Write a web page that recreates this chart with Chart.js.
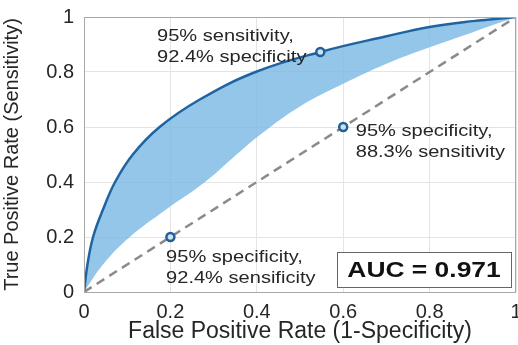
<!DOCTYPE html>
<html>
<head>
<meta charset="utf-8">
<script src="https://cdn.jsdelivr.net/npm/chart.js@4/dist/chart.umd.min.js"></script>
<style>
  html, body { margin: 0; padding: 0; background: #fff; }
  #wrap { width: 518px; height: 345px; }
</style>
</head>
<body>
<div id="wrap"><canvas id="myChart"></canvas></div>
<script>
// ROC curve (upper edge of the shaded band)
var rocFpr = [0, 0.008, 0.021, 0.044, 0.072, 0.113, 0.175, 0.268, 0.397, 0.547, 0.7, 0.8, 0.9, 1];
var rocTpr = [0, 0.1, 0.2, 0.3, 0.4, 0.5, 0.6, 0.7, 0.8, 0.873, 0.93, 0.964, 0.985, 1];

// lower edge of the shaded band
var lowFpr = [0, 0.044, 0.106, 0.19, 0.28, 0.353, 0.41, 0.5, 0.6, 0.7, 0.8, 0.9, 1];
var lowTpr = [0, 0.1, 0.2, 0.3, 0.4, 0.5, 0.575, 0.675, 0.757, 0.83, 0.89, 0.945, 1];

// chance line
var chanceFpr = [0, 1];
var chanceTpr = [0, 1];

// marked operating points
var markFpr = [0.547, 0.6, 0.2];
var markTpr = [0.873, 0.6, 0.2];
var markText = [
  ["95% sensitivity,", "92.4% specificity"],
  ["95% specificity,", "88.3% sensitivity"],
  ["95% specificity,", "92.4% sensificity"]
];
// where each text block starts (data units)
var textX = [0.169, 0.629, 0.190];
var textY = [0.928, 0.585, 0.125];

var aucText = "AUC = 0.971";

var tickLabels = ["0", "0.2", "0.4", "0.6", "0.8", "1"];

function pts(xs, ys) {
  var out = [];
  for (var i = 0; i < xs.length; i++) out.push({x: xs[i], y: ys[i]});
  return out;
}

var textColor = "#262626";
var fontFam = "'Liberation Sans', Arial, sans-serif";

// frame, annotations and AUC box
var extras = {
  id: "extras",
  afterDraw: function(chart) {
    var c = chart.ctx, a = chart.chartArea;
    var sx = chart.scales.x, sy = chart.scales.y;
    c.save();
    c.strokeStyle = "#a8a8a8";
    c.lineWidth = 1;
    c.strokeRect(a.left + 0.5, a.top + 0.5, a.right - a.left - 1, a.bottom - a.top);

    c.fillStyle = textColor;
    c.textBaseline = "middle";
    c.font = "17px " + fontFam;
    var stretch = 1.18;
    for (var i = 0; i < markText.length; i++) {
      var px = sx.getPixelForValue(textX[i]);
      var py = sy.getPixelForValue(textY[i]);
      for (var j = 0; j < markText[i].length; j++) {
        c.save();
        c.translate(px, py + j * 21);
        c.scale(stretch, 1);
        c.fillText(markText[i][j], 0, 0);
        c.restore();
      }
    }

    // AUC box
    var bx = 337, by = 252, bw = 174, bh = 35;
    c.fillStyle = "#fff";
    c.fillRect(bx, by, bw, bh);
    c.strokeStyle = "#666";
    c.strokeRect(bx + 0.5, by + 0.5, bw, bh);
    c.fillStyle = "#111";
    c.font = "bold 22px " + fontFam;
    c.textAlign = "center";
    c.save();
    c.translate(bx + bw / 2, by + bh / 2 + 1);
    c.scale(1.2, 1);
    c.fillText(aucText, 0, 0);
    c.restore();
    c.restore();
  }
};

var ctx = document.getElementById("myChart");

var myChart = new Chart(ctx, {
  type: "scatter",
  data: {
    datasets: [
      {
        label: "points",
        data: pts(markFpr, markTpr),
        showLine: false,
        pointRadius: 4,
        pointBorderWidth: 2.5,
        pointBorderColor: "#1f5f9a",
        pointBackgroundColor: "#cfe1f0"
      },
      {
        label: "chance",
        data: pts(chanceFpr, chanceTpr),
        showLine: true,
        borderColor: "#8a8a8a",
        borderWidth: 2.5,
        borderDash: [9, 6],
        pointRadius: 0
      },
      {
        label: "roc",
        data: pts(rocFpr, rocTpr),
        showLine: true,
        borderColor: "#1f64a0",
        borderWidth: 2.5,
        tension: 0.4,
        pointRadius: 0,
        fill: "+1",
        backgroundColor: "rgba(120,184,228,0.8)"
      },
      {
        label: "low",
        data: pts(lowFpr, lowTpr),
        showLine: true,
        borderWidth: 0,
        borderColor: "rgba(0,0,0,0)",
        tension: 0.4,
        pointRadius: 0
      }
    ]
  },
  options: {
    responsive: true,
    maintainAspectRatio: false,
    animation: false,
    layout: { autoPadding: false, padding: { top: 17, right: 2, left: 0, bottom: 0 } },
    plugins: {
      legend: { display: false },
      tooltip: { enabled: false }
    },
    scales: {
      x: {
        type: "linear",
        min: 0, max: 1,
        grid: { color: "#e4e4e4", drawTicks: false },
        border: { display: false },
        ticks: {
          stepSize: 0.2,
          padding: 8,
          color: textColor,
          font: { size: 20, family: fontFam },
          callback: function(v, i) { return tickLabels[i]; }
        },
        title: {
          display: true,
          text: "False Positive Rate (1-Specificity)",
          color: textColor,
          padding: { top: 0, bottom: 0 },
          font: { size: 23, family: fontFam }
        },
        afterFit: function(s) { s.height = 53; s.paddingLeft = 0; s.paddingRight = 0; }
      },
      y: {
        type: "linear",
        min: 0, max: 1,
        grid: { color: "#e4e4e4", drawTicks: false },
        border: { display: false },
        ticks: {
          stepSize: 0.2,
          padding: 10,
          color: textColor,
          font: { size: 20, family: fontFam },
          callback: function(v, i) { return tickLabels[i]; }
        },
        title: {
          display: true,
          text: "True Positive Rate (Sensitivity)",
          color: textColor,
          padding: { top: 0, bottom: 0 },
          font: { size: 20, family: fontFam }
        },
        afterFit: function(s) { s.width = 84; s.paddingTop = 0; s.paddingBottom = 0; }
      }
    }
  },
  plugins: [extras]
});
</script>
</body>
</html>
